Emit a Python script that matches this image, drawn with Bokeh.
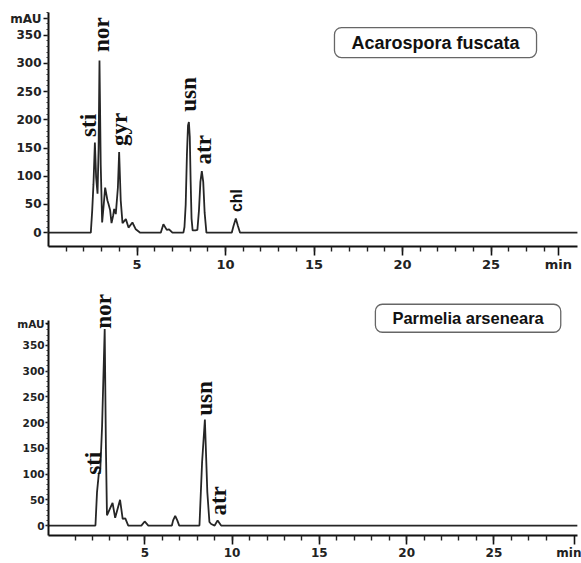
import numpy as np
from bokeh.plotting import figure
from bokeh.layouts import column
from bokeh.models import FixedTicker, Label, ColumnDataSource, Range1d
from bokeh.core.properties import value
from bokeh.embed import file_html
from bokeh.resources import INLINE

# ---------------- data: Acarospora fuscata (top) ----------------
a_time = [0, 2.39, 2.47, 2.54, 2.62, 2.69, 2.77, 2.83, 2.88, 2.95, 3.03, 3.12, 3.20, 3.33,
          3.39, 3.48, 3.56, 3.65, 3.71, 3.80, 3.92, 3.99, 4.08, 4.18, 4.37, 4.52, 4.74,
          4.93, 5.18, 6.34, 6.49, 6.68, 6.81, 7.00,
          7.62, 7.68, 7.75, 7.82, 7.88, 7.93, 7.98, 8.03, 8.08, 8.14, 8.30, 8.41, 8.50,
          8.58, 8.66, 8.74, 8.82, 8.92, 10.35, 10.45, 10.58, 10.70, 10.82, 29.9]
a_mau = [0, 0, 40, 86, 160, 98, 69, 150, 305, 120, 18, 50, 80, 57,
         51, 40, 17, 30, 42, 33, 80, 143, 57, 17, 24, 9, 18,
         6, 0, 0, 15, 5, 6, 0,
         0, 10, 50, 140, 190, 196, 170, 90, 25, 4, 4, 5, 40,
         90, 109, 90, 35, 0, 0, 12, 25, 12, 0, 0]
a_lbl = ["sti", "nor", "gyr", "usn", "atr"]
a_lbl_t = [2.28, 3.02, 4.03, 7.92, 8.77]
a_lbl_v = [190, 351, 183, 245, 147]
a_small_lbl = ["chl"]
a_small_t = [10.6]
a_small_v = [57]

# ---------------- data: Parmelia arseneara (bottom) ----------------
p_time = [-0.52, 2.17, 2.26, 2.36, 2.45, 2.55, 2.70, 2.77, 2.83, 3.15, 3.30, 3.58, 3.73, 3.88,
          4.05, 4.80, 4.99, 5.20, 6.55, 6.62, 6.74, 6.86, 6.97,
          8.13, 8.28, 8.44, 8.58, 8.70, 8.80, 9.00, 9.17, 9.37, 29.8]
p_mau = [0, 0, 65, 100, 110, 193, 382, 150, 20, 44, 15, 50, 13, 14,
         0, 0, 8, 0, 0, 10, 19, 10, 0,
         0, 123, 206, 65, 7, 3, 0, 10, 0, 0]
p_lbl = ["sti", "nor", "usn", "atr"]
p_lbl_t = [2.06, 2.62, 8.40, 9.24]
p_lbl_v = [121, 416, 247, 48]

x_major = [5, 10, 15, 20, 25]
x_minor = list(range(1, 29))
y_major = [0, 50, 100, 150, 200, 250, 300, 350]
y_minor = list(range(0, 400, 10))


def panel(time, mau, lbl, lbl_t, lbl_v, title, title_xy, title_size,
          height, x_rng, y_rng, y_bounds, mau_pos, min_pos,
          left, right, top, bottom, xlab_size, ylab_size, xtick_out, ytick_out, ystand):
    p = figure(width=581, height=height, output_backend="svg", toolbar_location=None,
               x_range=Range1d(*x_rng), y_range=Range1d(*y_rng),
               min_border_left=left, min_border_right=right, min_border_top=top,
               min_border_bottom=bottom)
    p.outline_line_color = None
    p.grid.visible = False
    p.background_fill_color = "white"
    p.border_fill_color = "white"

    p.line(time, mau, line_color="#262626", line_width=1.8)

    src = ColumnDataSource(dict(x=lbl_t, y=lbl_v, t=lbl))
    p.text(x="x", y="y", text="t", source=src, angle=np.pi / 2,
           text_font=value("Liberation Serif"), text_font_style="bold",
           text_font_size="23px", text_align="center", text_baseline="middle",
           text_color="#111")

    lab = Label(x=title_xy[0], y=title_xy[1], text=title,
                text_font="Liberation Sans", text_font_style="bold",
                text_font_size=title_size, text_align="center",
                text_baseline="middle", text_color="#111",
                border_line_color="#666", border_line_width=1.3,
                background_fill_color="white", border_radius=7,
                padding=dict(left=17, right=17, top=5, bottom=5))
    p.add_layout(lab)

    xa = p.xaxis[0]
    xa.ticker = FixedTicker(ticks=x_major + [min_pos], minor_ticks=x_minor)
    xa.major_label_overrides = {min_pos: "min"}
    xa.axis_line_width = 2
    xa.axis_line_color = "#111"
    xa.major_tick_out = xtick_out
    xa.major_tick_in = 0
    xa.minor_tick_out = 5
    xa.minor_tick_in = 0
    xa.major_tick_line_width = 1.6
    xa.minor_tick_line_width = 1.4
    xa.major_tick_line_color = "#111"
    xa.minor_tick_line_color = "#222"
    xa.major_label_standoff = 1
    xa.major_label_text_font = "DejaVu Sans"
    xa.major_label_text_font_style = "bold"
    xa.major_label_text_font_size = xlab_size
    xa.major_label_text_color = "#222"

    ya = p.yaxis[0]
    ya.ticker = FixedTicker(ticks=y_major + [mau_pos], minor_ticks=y_minor)
    ya.major_label_overrides = {mau_pos: "mAU"}
    ya.bounds = y_bounds
    ya.axis_line_width = 2
    ya.axis_line_color = "#111"
    ya.major_tick_out = ytick_out
    ya.major_tick_in = 0
    ya.minor_tick_out = 2
    ya.minor_tick_in = 0
    ya.major_tick_line_width = 1.4
    ya.minor_tick_line_width = 1
    ya.major_tick_line_color = "#111"
    ya.minor_tick_line_color = "#333"
    ya.major_label_standoff = ystand
    ya.major_label_text_font = "DejaVu Sans"
    ya.major_label_text_font_style = "bold"
    ya.major_label_text_font_size = ylab_size
    ya.major_label_text_color = "#222"
    return p


p1 = panel(a_time, a_mau, a_lbl, a_lbl_t, a_lbl_v, "Acarospora fuscata", (21.86, 337), "18px",
           height=284, x_rng=(0, 29.88), y_rng=(-24.5, 393.8), y_bounds=(-24.5, 391),
           mau_pos=379, min_pos=28.8, left=48, right=4, top=10, bottom=38,
           xlab_size="13px", ylab_size="12px", xtick_out=9, ytick_out=5, ystand=2)
p1.text(x=a_small_t, y=a_small_v, text=a_small_lbl, angle=np.pi / 2,
        text_font=value("Liberation Sans"), text_font_style="bold",
        text_font_size="16px", text_align="center", text_baseline="middle",
        text_color="#111")

p2 = panel(p_time, p_mau, p_lbl, p_lbl_t, p_lbl_v, "Parmelia arseneara", (23.52, 402.7), "16.5px",
           height=278, x_rng=(-0.52, 29.79), y_rng=(-19.3, 460.5), y_bounds=(-19.3, 398),
           mau_pos=392, min_pos=29.6, left=44, right=0, top=4, bottom=25,
           xlab_size="12px", ylab_size="10.5px", xtick_out=9, ytick_out=3, ystand=1)

layout = column(p1, p2, spacing=0)
open("out.html", "w").write(file_html(layout, INLINE))
